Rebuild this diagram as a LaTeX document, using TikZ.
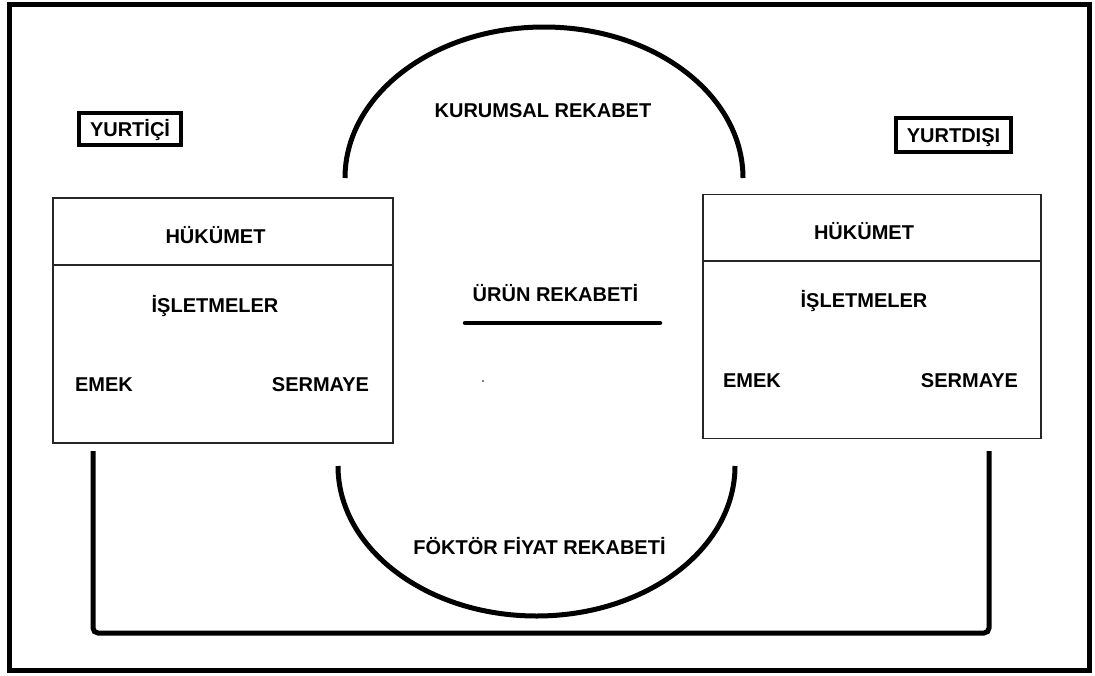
\documentclass[tikz,border=0pt]{standalone}
\usepackage{fontspec}
\setmainfont{Liberation Sans}
\begin{document}
\begin{tikzpicture}[x=1pt,y=-1pt,
  lbl/.style={font=\bfseries\fontsize{20}{24}\selectfont, inner sep=0pt, anchor=base},
  tag/.style={draw, line width=4pt, font=\bfseries\fontsize{20}{24}\selectfont,
              text height=15pt, text depth=0pt, inner sep=0pt},
  panel/.style={draw=black!85, line width=1.2pt, inner sep=0pt},
  thick line/.style={line width=5pt},
  divider/.style={draw=black!85, line width=1.2pt}]
  \useasboundingbox (0,0) rectangle (1095,675);

  % outer frame
  \draw[line width=5pt] (9,4) rectangle (1089,670);

  % country tags
  \node[tag, minimum width=102pt, minimum height=32pt] (yurtici) at (130,129) {YURTİÇİ};
  \node[tag, minimum width=115pt, minimum height=34pt] (yurtdisi) at (953.5,135) {YURTDIŞI};

  % the two economies
  \node[panel, minimum width=340pt, minimum height=245pt] (lbox) at (223,320.5) {};
  \node[panel, minimum width=338pt, minimum height=244pt] (rbox) at (872,316.5) {};
  \draw[divider] (lbox.west |- 0,265) -- ++(342,0);
  \draw[divider] (rbox.west |- 0,261) -- ++(340,0);

  \node[lbl] (lhuk) at (215.5,243) {HÜKÜMET};
  \node[lbl] (lisl) at (215,312) {İŞLETMELER};
  \node[lbl] (lemk) at (104,391) {EMEK};
  \node[lbl] (lser) at (320.5,391) {SERMAYE};

  \node[lbl] (rhuk) at (864,239) {HÜKÜMET};
  \node[lbl] (risl) at (864,307) {İŞLETMELER};
  \node[lbl] (remk) at (752,387) {EMEK};
  \node[lbl] (rser) at (969.5,387) {SERMAYE};

  % institutional competition (upper arc)
  \coordinate (ua) at (345,178);
  \coordinate (ut) at (544,27);
  \coordinate (ub) at (743,178);
  \draw[thick line] (ua) .. controls (345,94.6) and (434.1,27) .. (ut)
                         .. controls (653.9,27) and (743,94.6) .. (ub);
  \node[lbl] (kurumsal) at (543,117) {KURUMSAL REKABET};

  % product competition
  \node[lbl] (urun) at (555.5,301) {ÜRÜN REKABETİ};
  \coordinate (pa) at (465,323);
  \coordinate (pb) at (660,323);
  \draw[line width=4.5pt, line cap=round] (pa) -- (pb);
  \fill (483,381) circle[radius=0.8pt];

  % factor price competition (lower arc)
  \coordinate (la) at (338,466);
  \coordinate (lt) at (536.5,616);
  \coordinate (lb) at (735,466);
  \draw[thick line] (la) .. controls (338,548.8) and (426.9,616) .. (lt)
                         .. controls (646.1,616) and (735,548.8) .. (lb);
  \node[lbl] (faktor) at (539.5,554) {FÖKTÖR FİYAT REKABETİ};

  % link between the two economies
  \coordinate (cl) at (93,451);
  \coordinate (cr) at (989,451);
  \draw[thick line, rounded corners=5pt] (cl) -- (cl |- 0,633) -- (cr |- 0,633) -- (cr);
\end{tikzpicture}
\end{document}
